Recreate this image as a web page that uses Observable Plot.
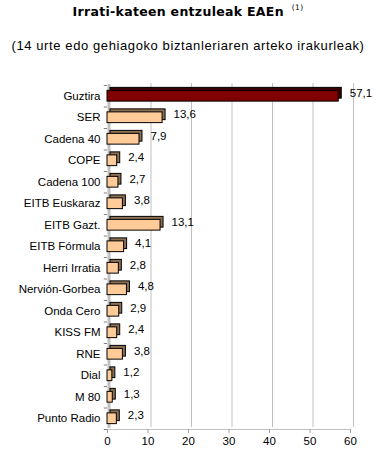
<!DOCTYPE html>
<html>
<head>
<meta charset="utf-8">
<script src="https://cdn.jsdelivr.net/npm/d3@7"></script>
<script src="https://cdn.jsdelivr.net/npm/@observablehq/plot@0.6"></script>
<style>
  body { margin: 0; background: #fff; width: 376px; height: 468px; overflow: hidden; position: relative; }
  #title { position: absolute; top: 3px; left: 0; width: 376px; text-align: center; font: bold 12.5px "DejaVu Sans", Verdana, sans-serif; color: #000; letter-spacing: 0.3px; }
  #title sup { font-size: 7.5px; font-weight: normal; margin-left: 8px; vertical-align: 6px; }
  #subtitle { position: absolute; top: 38px; left: 0; width: 376px; text-align: center; font: 13px "Liberation Sans", Arial, sans-serif; color: #000; letter-spacing: 0.6px; }
  #chart { position: absolute; top: 70px; left: 0; }
</style>
</head>
<body>
<div id="title">Irrati-kateen entzuleak EAEn<sup>(1)</sup></div>
<div id="subtitle">(14 urte edo gehiagoko biztanleriaren arteko irakurleak)</div>
<div id="chart"></div>
<script>
const categories = ["Guztira","SER","Cadena 40","COPE","Cadena 100","EITB Euskaraz","EITB Gazt.","EITB Fórmula","Herri Irratia","Nervión-Gorbea","Onda Cero","KISS FM","RNE","Dial","M 80","Punto Radio"];
const values = [57.1, 13.6, 7.9, 2.4, 2.7, 3.8, 13.1, 4.1, 2.8, 4.8, 2.9, 2.4, 3.8, 1.2, 1.3, 2.3];
const xTicks = [0, 10, 20, 30, 40, 50, 60];

const data = categories.map((c, i) => ({c, v: values[i], total: i === 0}));
const fmt = v => v.toFixed(1).replace(".", ",");

const H = 398, mT = 15, mB = 39;
const step = (H - mT - mB) / categories.length;

const chart = Plot.plot({
  width: 376,
  height: H,
  marginTop: mT,
  marginBottom: mB,
  marginLeft: 107,
  marginRight: 26,
  style: {fontFamily: "'Liberation Sans', Arial, sans-serif", fontSize: "11.5px", color: "#000", background: "#fff"},
  x: {domain: [0, 60], label: null},
  y: {domain: categories, paddingInner: 0.5, paddingOuter: 0.25, round: false, label: null},
  marks: [
    Plot.ruleX(xTicks.slice(1), {stroke: "#c0c0c0", dx: 3, dy: -2}),
    Plot.ruleX([0], {stroke: "#c0c0c0", strokeWidth: 3, dx: 1.5, dy: -1}),
    Plot.frame({anchor: "bottom", stroke: "#c0c0c0"}),
    Plot.ruleY(categories, {y: d => d, x1: -0.8, x2: 0, dy: -step / 2, stroke: "#808080"}),
    Plot.ruleY([categories[categories.length - 1]], {y: d => d, x1: -0.8, x2: 0, dy: step / 2, stroke: "#808080"}),
    Plot.axisX({ticks: xTicks, tickSize: 4, tickPadding: 3, stroke: "#a0a0a0", tickFormat: d => d, label: null}),
    Plot.axisY({tickSize: 0, tickPadding: 7, label: null}),
    Plot.barX(data, {x1: 0, x2: "v", y: "c", dx: 3, dy: -3, fill: d => d.total ? "#400000" : "#8c7053", stroke: "#000", strokeWidth: 1}),
    Plot.barX(data, {x1: 0, x2: "v", y: "c", fill: d => d.total ? "#800000" : "#ffcc99", stroke: "#000", strokeWidth: 1}),
    Plot.text(data, {x: "v", y: "c", text: d => fmt(d.v), textAnchor: "start", dx: 11, dy: -3, fill: "#000"})
  ]
});
document.getElementById("chart").appendChild(chart);
</script>
</body>
</html>
